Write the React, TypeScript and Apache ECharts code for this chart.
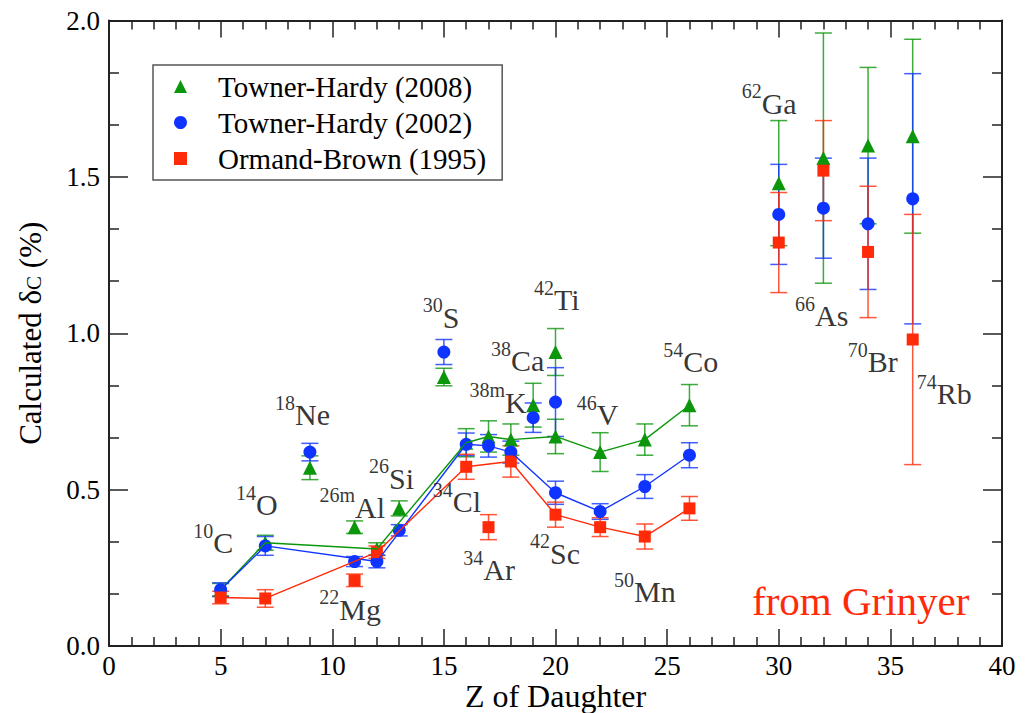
import React, { useEffect, useRef } from "react";
import * as echarts from "echarts";

// ---- data ----
const th2008Z = [5, 7, 9, 11, 12, 13, 15, 16, 17, 18, 19, 20, 20, 22, 24, 26, 30, 32, 34, 36];
const th2008Val = [0.18, 0.33, 0.57, 0.38, 0.31, 0.44, 0.86, 0.65, 0.67, 0.66, 0.77, 0.94, 0.67, 0.62, 0.66, 0.77, 1.48, 1.56, 1.6, 1.63];
const th2008Err = [0.02, 0.024, 0.038, 0.02, 0.02, 0.024, 0.028, 0.045, 0.05, 0.05, 0.07, 0.075, 0.055, 0.062, 0.05, 0.066, 0.2, 0.4, 0.25, 0.31];
const th2008OnLine = [1, 1, 0, 0, 1, 0, 0, 1, 1, 1, 0, 0, 1, 1, 1, 1, 0, 0, 0, 0];

const th2002Z = [5, 7, 9, 11, 12, 13, 15, 16, 17, 18, 19, 20, 20, 22, 24, 26, 30, 32, 34, 36];
const th2002Val = [0.18, 0.32, 0.62, 0.27, 0.27, 0.37, 0.94, 0.645, 0.64, 0.62, 0.73, 0.78, 0.49, 0.43, 0.51, 0.61, 1.38, 1.4, 1.35, 1.43];
const th2002Err = [0.022, 0.03, 0.028, 0.016, 0.02, 0.018, 0.04, 0.036, 0.036, 0.035, 0.047, 0.11, 0.037, 0.025, 0.038, 0.04, 0.16, 0.16, 0.21, 0.4];
const th2002OnLine = [1, 1, 0, 0, 1, 0, 0, 1, 1, 1, 0, 0, 1, 1, 1, 1, 0, 0, 0, 0];

const ob1995Z = [5, 7, 11, 12, 16, 17, 18, 20, 22, 24, 26, 30, 32, 34, 36];
const ob1995Val = [0.155, 0.152, 0.21, 0.3, 0.573, 0.38, 0.59, 0.42, 0.38, 0.35, 0.44, 1.29, 1.52, 1.26, 0.98];
const ob1995Err = [0.02, 0.028, 0.02, 0.02, 0.04, 0.04, 0.05, 0.04, 0.03, 0.04, 0.038, 0.16, 0.16, 0.21, 0.4];
const ob1995OnLine = [1, 1, 0, 1, 1, 0, 1, 1, 1, 1, 1, 0, 0, 0, 0];

const seriesNames = ["Towner-Hardy (2008)", "Towner-Hardy (2002)", "Ormand-Brown (1995)"];

// nuclide annotations (mass number, symbol) and where the element symbol starts (data coordinates)
const nucMass = ["10", "14", "18", "26m", "22", "26", "30", "34", "34", "38m", "38", "42", "42", "46", "50", "54", "62", "66", "70", "74"];
const nucSym = ["C", "O", "Ne", "Al", "Mg", "Si", "S", "Cl", "Ar", "K", "Ca", "Ti", "Sc", "V", "Mn", "Co", "Ga", "As", "Br", "Rb"];
const nucAnchorZ = [4.672, 6.585, 8.331, 11.019, 10.316, 12.542, 14.947, 15.395, 16.766, 17.738, 18.007, 19.933, 19.754, 21.845, 23.516, 25.725, 29.236, 31.624, 33.984, 37.075];
const nucAnchorV = [0.3306, 0.4512, 0.7389, 0.4438, 0.1177, 0.5365, 1.0513, 0.4617, 0.2433, 0.7795, 0.9125, 1.1066, 0.2967, 0.7389, 0.1739, 0.9094, 1.7356, 1.0555, 0.9094, 0.8061];

const xTicks = { min: 0, max: 40, interval: 5 };
const yTicks = { min: 0, max: 2, interval: 0.5 };

const FONT = "Liberation Serif";
const GREEN = "#0c960c";
const BLUE = "#1034ff";
const RED = "#ff2a08";

function errorSeries(name: string, zs: number[], vals: number[], errs: number[], color: string) {
  return {
    type: "custom",
    name,
    silent: true,
    data: zs.map((z, i) => [z, vals[i] - errs[i], vals[i] + errs[i]]),
    encode: { x: 0, y: [1, 2] },
    renderItem: (_p: any, api: any) => {
      const x = api.value(0);
      const lo = api.coord([x, api.value(1)]);
      const hi = api.coord([x, api.value(2)]);
      const hw = 8.5;
      const st = { stroke: color, lineWidth: 1.5, opacity: 0.8 };
      return {
        type: "group",
        children: [
          { type: "line", shape: { x1: lo[0], y1: lo[1], x2: hi[0], y2: hi[1] }, style: st },
          { type: "line", shape: { x1: lo[0] - hw, y1: lo[1], x2: lo[0] + hw, y2: lo[1] }, style: st },
          { type: "line", shape: { x1: hi[0] - hw, y1: hi[1], x2: hi[0] + hw, y2: hi[1] }, style: st },
        ],
      };
    },
  };
}

function lineSeries(name: string, zs: number[], vals: number[], on: number[], color: string) {
  return {
    type: "line",
    name,
    silent: true,
    showSymbol: false,
    symbol: "none",
    data: zs.map((z, i) => [z, vals[i]]).filter((_, i) => on[i] === 1),
    lineStyle: { color, width: 1.4 },
  };
}

function pointSeries(name: string, zs: number[], vals: number[], symbol: string, size: number, color: string) {
  return {
    type: "scatter",
    name,
    symbol,
    symbolSize: size,
    data: zs.map((z, i) => [z, vals[i]]),
    itemStyle: { color, opacity: 1 },
  };
}

function labelSeries(name: string, texts: string[], size: number, align: string, offsetY: number) {
  return {
    type: "scatter",
    name,
    silent: true,
    symbolSize: 0,
    z: 5,
    data: nucAnchorZ.map((z, i) => [z, nucAnchorV[i]]),
    label: {
      show: true,
      position: "inside",
      align,
      verticalAlign: "middle",
      offset: [0, offsetY],
      fontFamily: FONT,
      fontSize: size,
      color: "#000",
      formatter: (p: any) => texts[p.dataIndex],
    },
  };
}

export default function App() {
  const ref = useRef<HTMLDivElement>(null);
  useEffect(() => {
    if (!ref.current) return;
    const chart = echarts.init(ref.current, null, { renderer: "svg" });

    const axisCommon = {
      axisLine: { show: true, onZero: false, lineStyle: { color: "#222", width: 2 } },
      splitLine: { show: false },
    };
    const tickX = { show: true, inside: true, length: 17, lineStyle: { color: "#222", width: 1.5 } };
    const minorX = { show: true, splitNumber: 5, length: 9, lineStyle: { color: "#222", width: 1.5 } };
    const tickY = { show: true, inside: true, length: 19, lineStyle: { color: "#222", width: 1.5 } };
    const minorY = { show: true, splitNumber: 3, length: 10, lineStyle: { color: "#222", width: 1.5 } };

    const option: any = {
      animation: false,
      backgroundColor: "#fff",
      textStyle: { fontFamily: FONT, color: "#000" },
      grid: { left: 109, top: 20.5, right: 32, bottom: 67, containLabel: false, outerBoundsMode: "none" },
      legend: {
        data: seriesNames,
        orient: "vertical",
        left: 153,
        top: 65,
        padding: [7, 16, 7, 21],
        itemWidth: 13,
        itemHeight: 13,
        itemGap: 7,
        borderColor: "#555",
        borderWidth: 1.5,
        backgroundColor: "#fff",
        selectedMode: false,
        textStyle: { fontFamily: FONT, fontSize: 29, color: "#000", padding: [0, 0, 0, 26] },
      },
      xAxis: [
        {
          type: "value",
          ...xTicks,
          ...axisCommon,
          position: "bottom",
          name: "Z of Daughter",
          nameLocation: "middle",
          nameGap: 34,
          nameMoveOverlap: false,
          nameTextStyle: { fontFamily: FONT, fontSize: 32, color: "#000" },
          axisTick: tickX,
          minorTick: minorX,
          axisLabel: { fontFamily: FONT, fontSize: 27, color: "#000", margin: 6 },
        },
        {
          type: "value",
          ...xTicks,
          ...axisCommon,
          position: "top",
          axisTick: tickX,
          minorTick: minorX,
          axisLabel: { show: false },
        },
      ],
      yAxis: [
        {
          type: "value",
          ...yTicks,
          ...axisCommon,
          position: "left",
          name: "{a|Calculated δ}{b|C}{a| (%)}",
          nameLocation: "middle",
          nameGap: 63,
          nameMoveOverlap: false,
          nameTextStyle: {
            fontFamily: FONT,
            color: "#000",
            rich: {
              a: { fontFamily: FONT, fontSize: 31, color: "#000" },
              b: { fontFamily: FONT, fontSize: 21, color: "#000", padding: [6, 0, 0, 0] },
            },
          },
          axisTick: tickY,
          minorTick: minorY,
          axisLabel: {
            fontFamily: FONT,
            fontSize: 27,
            color: "#000",
            margin: 9,
            formatter: (v: number) => v.toFixed(1),
          },
        },
        {
          type: "value",
          ...yTicks,
          ...axisCommon,
          position: "right",
          axisTick: tickY,
          minorTick: minorY,
          axisLabel: { show: false },
        },
      ],
      series: [
        errorSeries("err2008", th2008Z, th2008Val, th2008Err, GREEN),
        lineSeries("line2008", th2008Z, th2008Val, th2008OnLine, GREEN),
        pointSeries(seriesNames[0], th2008Z, th2008Val, "triangle", 14, GREEN),
        errorSeries("err2002", th2002Z, th2002Val, th2002Err, BLUE),
        lineSeries("line2002", th2002Z, th2002Val, th2002OnLine, BLUE),
        pointSeries(seriesNames[1], th2002Z, th2002Val, "circle", 13, BLUE),
        errorSeries("err1995", ob1995Z, ob1995Val, ob1995Err, RED),
        lineSeries("line1995", ob1995Z, ob1995Val, ob1995OnLine, RED),
        pointSeries(seriesNames[2], ob1995Z, ob1995Val, "rect", 12, RED),
        labelSeries("nuclideSymbol", nucSym, 30, "left", 0),
        labelSeries("nuclideMass", nucMass, 20, "right", -12),
      ],
      graphic: [
        {
          type: "text",
          left: 752,
          top: 580,
          silent: true,
          style: { text: "from Grinyer", fontFamily: FONT, fontSize: 41, fill: RED },
        },
      ],
    };
    chart.setOption(option);
    return () => chart.dispose();
  }, []);
  return <div ref={ref} style={{ position: "absolute", left: 0, top: 0, width: 1034, height: 713 }} />;
}
